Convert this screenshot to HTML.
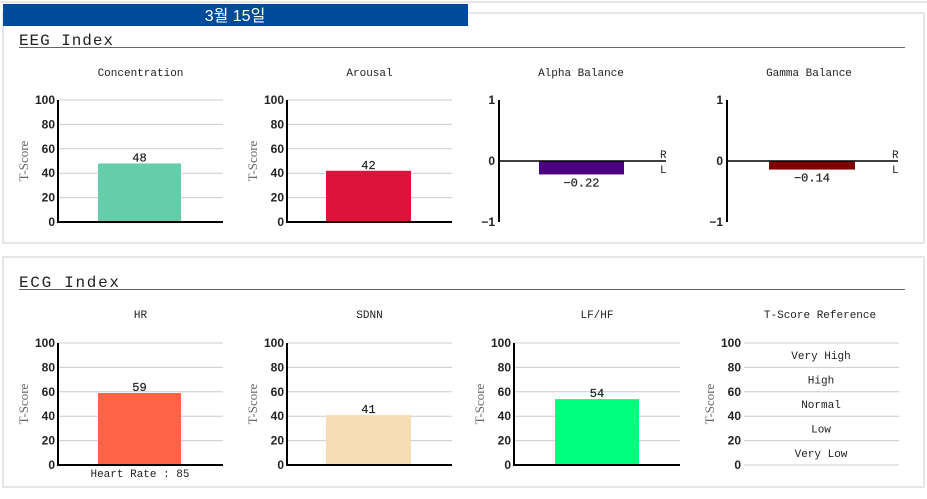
<!DOCTYPE html>
<html><head><meta charset="utf-8">
<style>
body{margin:0;background:#fff;width:927px;height:499px;overflow:hidden}
svg{display:block}
.t{font-family:"Liberation Mono",monospace;font-size:11px;fill:#222}
.v{font-family:"Liberation Mono",monospace;font-size:12px;fill:#222;stroke:#222;stroke-width:0.2}
.tk{font-family:"Liberation Sans",sans-serif;font-size:12px;font-weight:bold;fill:#222}
.yl{font-family:"Liberation Serif",serif;font-size:13px;fill:#666}
.sec{font-family:"Liberation Mono",monospace;font-size:16px;fill:#222}
</style></head>
<body>
<svg id="c" width="927" height="499">
<line x1="0" y1="2" x2="927" y2="2" stroke="#ccc"/>
<rect x="3" y="13" width="921" height="230" fill="none" stroke="#ccc"/>
<rect x="3" y="4" width="465" height="22" fill="#004a9c"/>
<text x="235" y="21" text-anchor="middle" fill="#fff" font-family="'Liberation Sans','Noto Sans CJK KR',sans-serif" font-size="16">3월 15일</text>
<text class="sec" x="19" y="45" textLength="94">EEG Index</text>
<line x1="19" y1="47.5" x2="905" y2="47.5" stroke="#666"/>
<rect x="3" y="257" width="921" height="230" fill="none" stroke="#ccc"/>
<text class="sec" x="19" y="287" textLength="100">ECG Index</text>
<line x1="19" y1="289.5" x2="905" y2="289.5" stroke="#666"/>
</svg>
<script>
const tTitles=["Concentration","Arousal","HR","SDNN","LF/HF"];
const tValues=[48,42,59,41,54];
const tColors=["#66cdaa","#dc143c","#ff6347","#f5deb3","#00ff7f"];
const balTitles=["Alpha Balance","Gamma Balance"];
const balValues=[-0.22,-0.14];
const balColors=["#4b0082","#800000"];
const yTicks=[0,20,40,60,80,100];
const refLabels=["Very Low","Low","Normal","High","Very High"];
const svg=document.getElementById('c');
const NS='http://www.w3.org/2000/svg';
function mk(tag,attrs,text){const e=document.createElementNS(NS,tag);for(const k in attrs)e.setAttribute(k,attrs[k]);if(text!==undefined)e.textContent=text;svg.appendChild(e);return e;}
const tLayout=[[58,223,98,181,100,222,76],[287,452,326,411,100,222,76],[58,223,98,181,343,465,318],[287,452,326,411,343,465,318],[514,680,555,639,343,465,318]];
function tChart(i){
  const [ax,ge,b0,b1,top,bot,ty]=tLayout[i];
  const y=v=>bot-(v/100)*(bot-top);
  let e=mk('text',{class:'t',x:(ax+ge)/2,y:ty,'text-anchor':'middle'},tTitles[i]);
  
  
  yTicks.forEach(t=>{
    if(t>0){e=mk('line',{x1:ax,x2:ge,y1:y(t),y2:y(t),stroke:'#ccc'});
    
    }
    e=mk('text',{class:'tk',x:ax-3,y:y(t)+4,'text-anchor':'end'},t);
    
    
  });
  e=mk('text',{class:'yl',transform:`translate(${ax-30},${(top+bot)/2}) rotate(-90)`,'text-anchor':'middle'},'T-Score');
  
  
  const v=tValues[i];
  e=mk('rect',{x:b0,y:y(v),width:b1-b0,height:bot-y(v),fill:tColors[i]});
  
  
  e=mk('text',{class:'v',x:(b0+b1)/2,y:y(v)-2,'text-anchor':'middle'},v);
  
  
  e=mk('line',{x1:ax,x2:ax,y1:top,y2:bot,stroke:'#000','stroke-width':2});
  
  
  e=mk('line',{x1:ax-1,x2:ge,y1:bot,y2:bot,stroke:'#000','stroke-width':2});
  
  
}
for(let i=0;i<5;i++)tChart(i);
let hr=mk('text',{class:'t',x:140,y:477,'text-anchor':'middle'},'Heart Rate : 85');


const bLayout=[[499,666,539,624],[727,898,769,855]];
balValues.forEach((v,i)=>{
  const [ax,xe,b0,b1]=bLayout[i];const top=100,bot=222;
  const y=s=>161-s*61;
  let e=mk('text',{class:'t',x:ax+82,y:76,'text-anchor':'middle'},balTitles[i]);
  
  
  [1,0,-1].forEach(t=>{e=mk('text',{class:'tk',x:ax-4,y:y(t)+4,'text-anchor':'end'},t===-1?'−1':t);
  
  });
  e=mk('rect',{x:b0,y:Math.min(y(0),y(v)),width:b1-b0,height:Math.abs(y(v)-y(0)),fill:balColors[i]});
  
  
  e=mk('text',{class:'v',x:(b0+b1)/2,y:Math.max(y(0),y(v))+12,'text-anchor':'middle'},'−'+Math.abs(v).toFixed(2));
  
  
  e=mk('line',{x1:ax,x2:ax,y1:top,y2:bot,stroke:'#000','stroke-width':2});
  
  
  e=mk('line',{x1:ax,x2:xe,y1:y(0),y2:y(0),stroke:'#000','stroke-width':1.5});
  
  
  e=mk('text',{class:'t',x:xe-6,y:158},'R');
  
  
  e=mk('text',{class:'t',x:xe-6,y:173},'L');
  
  
});
(function(){
  const ax=744,ge=899,top=343,bot=465;const y=v=>bot-(v/100)*(bot-top);
  let e=mk('text',{class:'t',x:820,y:318,'text-anchor':'middle'},'T-Score Reference');
  
  
  yTicks.forEach(t=>{
    e=mk('line',{x1:ax,x2:ge,y1:y(t),y2:y(t),stroke:'#ccc'});
    
    
    e=mk('text',{class:'tk',x:ax-3,y:y(t)+4,'text-anchor':'end'},t);
    
    
  });
  e=mk('text',{class:'yl',transform:`translate(${ax-30},${(top+bot)/2}) rotate(-90)`,'text-anchor':'middle'},'T-Score');
  
  
  refLabels.forEach((l,i)=>{e=mk('text',{class:'t',x:821,y:y(i*20+10)+4,'text-anchor':'middle'},l);
  
  });
})();
</script>
</body></html>
